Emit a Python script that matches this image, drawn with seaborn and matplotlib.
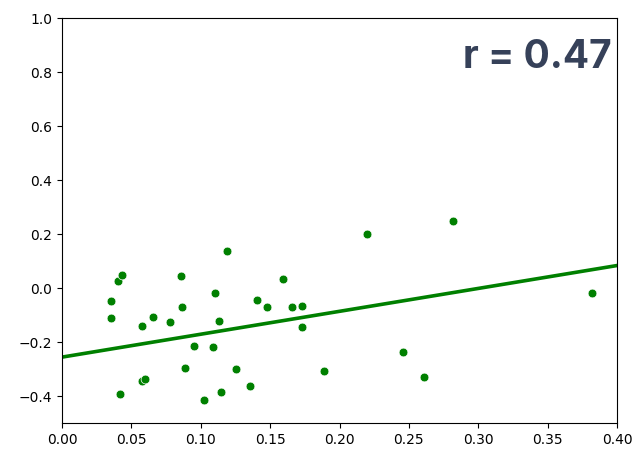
import matplotlib
matplotlib.use("Agg")
import matplotlib.pyplot as plt
import pandas as pd
import seaborn as sns

# Observations
x_vals = [0.0353, 0.0353, 0.0404, 0.0432, 0.0420, 0.0577, 0.0580, 0.0595,
          0.0656, 0.0778, 0.0858, 0.0865, 0.0886, 0.0950, 0.1023, 0.1088,
          0.1100, 0.1130, 0.1146, 0.1190, 0.1254, 0.1355, 0.1405, 0.1477,
          0.1590, 0.1658, 0.1730, 0.1730, 0.1888, 0.2198, 0.2458, 0.2610,
          0.2818, 0.3820]
y_vals = [-0.048, -0.111, 0.026, 0.048, -0.393, -0.141, -0.344, -0.338,
          -0.107, -0.126, 0.044, -0.070, -0.296, -0.215, -0.415, -0.219,
          -0.019, -0.122, -0.385, 0.137, -0.300, -0.363, -0.044, -0.070,
          0.033, -0.070, -0.067, -0.144, -0.307, 0.200, -0.237, -0.330,
          0.248, -0.019]

# Trend line parameters
line_intercept = -0.256
line_slope = 0.848
r_label = "r = 0.47"

df = pd.DataFrame({"x": x_vals, "y": y_vals})

fig, ax = plt.subplots(figsize=(6.36, 4.49), dpi=100)
fig.subplots_adjust(left=62/636, right=617/636, top=1-18/449, bottom=1-423/449)

sns.scatterplot(data=df, x="x", y="y", color="green", s=40, ax=ax)
ax.axline((0.0, line_intercept), slope=line_slope, color="green", linewidth=2.6)

ax.set_xlim(0.0, 0.4)
ax.set_ylim(-0.5, 1.0)
ax.set_xlabel("")
ax.set_ylabel("")

ax.text(0.991, 0.877, r_label, transform=ax.transAxes, ha="right", va="baseline",
        fontsize=28, fontweight="bold", family="Inter", color="#364159")

fig.savefig("out.png", dpi=100)
